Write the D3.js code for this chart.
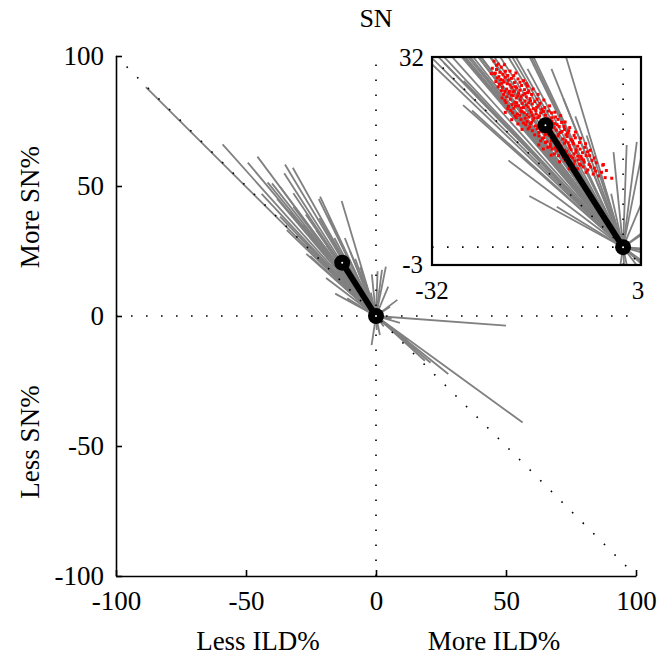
<!DOCTYPE html>
<html>
<head>
<meta charset="utf-8">
<script src="https://cdn.jsdelivr.net/npm/d3@7.9.0/dist/d3.min.js"></script>
<style>
  body { margin: 0; background: #fff; }
  svg { display: block; }
  text { font-family: "Liberation Serif", "Times New Roman", serif; fill: #000; }
</style>
</head>
<body>
<svg id="chart" width="658" height="659"></svg>
<script>
// per-subject change vectors (ILD% change, SN% change)
const subjILD = [-88.5, -59, -49.3, -45.6, -41.7, -40, -35, -35.3, -31.8, -32, -21.5, -22, -13.2, -18.3, -21.8,
  -36.9, -31.8, -36.9, -34.3, -26.7, -26.8, -25.3, -19.2, -15.7, -11.1, -6.1, -1.6, 0.6, 2.3, 3.8, 4.7,
  5.4, 8.2, 9.2, 50, 56.4, 27.8, 18.8, 21, 12, -1.7, 1.5, 0.3, -28, -24, -30, -22, -20, -17, -14, -11,
  -9, -23, -27, -16, -10, -8, -4, -2, -12, 6, 3, -30, -25, -19, -33, -44, -38];
const subjSN = [88, 66, 59, 61.3, 51.4, 51, 58.3, 54.9, 47.2, 57, 45.9, 45, 44.2, 38.2, 37.6,
  49.7, 42, 38.2, 33, 28, 23.9, 23, 14.6, 8.6, 6.8, 18.8, 16, 17.2, 17.7, 19, 11.3,
  3.6, 6.2, -2.6, -3.7, -41, -22.3, -17.2, -18, -9.5, -11.2, -7.3, -5.4, 35, 30, 31, 27, 24, 22, 18, 14,
  12, 33, 39, 30, 25, 22, 13, 9, 30, -1, -4, 36, 33, 27, 40, 47, 45];

// group mean vector
const meanILD = -13;
const meanSN = 20.5;

// bootstrap means (inset)
const bootPts = [
  [-21.6,31.3],[-20.9,30.8],[-21.9,30.1],[-21.2,29.9],[-20.4,30.3],[-19.7,29.6],[-21.5,29.2],
  [-20.8,28.7],[-20.1,29.1],[-19.3,28.9],[-18.7,28.4],[-20.5,28.2],
  [-19.9,27.8],[-19.2,28.1],[-18.2,27.7],[-17.6,28.3],[-20.7,27.4],[-18.9,27.3],
  [-20.2,26.9],[-19.5,26.6],[-18.6,26.9],[-17.8,26.8],[-17.0,27.2],[-16.5,26.5],[-18.2,26.3],[-19.8,26.2],
  [-20.0,25.7],[-19.1,25.9],[-18.4,25.5],[-17.5,25.9],[-16.8,25.6],[-16.0,26.0],[-15.3,25.7],[-17.9,25.1],[-19.5,25.3],
  [-19.8,24.7],[-18.9,24.9],[-18.1,24.4],[-17.2,24.8],[-16.4,24.6],[-15.6,25.0],[-14.8,24.5],[-16.9,24.2],[-15.2,24.1],[-18.6,24.0],
  [-19.2,23.7],[-18.3,23.4],[-17.5,23.8],[-16.7,23.5],[-15.9,23.6],[-15.0,23.3],[-14.2,23.8],[-13.6,23.2],[-17.1,22.9],[-18.8,23.0],
  [-18.5,22.6],[-17.7,22.4],[-16.9,22.8],[-16.1,22.3],[-15.4,22.7],[-14.6,22.4],[-13.8,22.6],[-13.0,22.2],[-12.5,22.9],[-15.8,21.9],
  [-17.9,21.8],[-17.1,21.5],[-16.4,21.7],[-15.1,21.4],[-14.3,21.8],[-13.5,21.3],[-12.7,21.6],[-11.9,21.2],[-11.3,21.9],[-16.7,20.9],
  [-16.3,20.6],[-15.5,20.8],[-14.7,20.4],[-13.9,20.7],[-12.2,20.5],[-11.5,20.8],[-10.7,20.3],[-10.3,21.0],[-15.9,19.9],
  [-15.2,19.6],[-14.4,19.9],[-13.6,19.5],[-12.9,19.8],[-12.0,19.4],[-11.2,19.7],[-10.5,19.3],[-9.8,19.8],[-9.3,19.2],[-14.8,18.9],
  [-14.1,18.7],[-13.3,18.4],[-12.4,18.8],[-11.7,18.3],[-10.9,18.7],[-10.1,18.2],[-9.4,18.6],[-8.7,18.1],[-8.2,18.8],[-13.8,17.9],
  [-13.0,17.6],[-12.2,17.3],[-11.4,17.7],[-10.6,17.2],[-9.8,17.5],[-9.0,17.1],[-8.3,17.4],[-7.6,17.0],[-12.6,16.8],
  [-11.9,16.5],[-11.1,16.2],[-10.3,16.6],[-9.5,16.1],[-8.7,16.4],[-7.9,16.0],[-7.2,16.5],[-6.8,15.9],[-11.5,15.7],
  [-10.8,15.4],[-10.0,15.1],[-9.2,15.5],[-8.4,15.0],[-7.6,15.3],[-6.9,14.9],[-6.2,15.4],[-9.7,14.6],
  [-9.0,14.2],[-8.1,14.5],[-7.3,14.0],[-6.5,14.3],[-5.7,13.9],[-5.2,14.6],[-8.5,13.6],
  [-7.6,13.2],[-6.7,13.5],[-5.9,13.0],[-4.8,13.3],[-3.4,13.8],[-6.2,12.6],
  [-5.0,12.3],[-4.1,12.0],[-3.0,11.7],[-1.9,11.6],[-4.6,12.8],
  [-19.4,27.5],[-18.0,27.0],[-17.3,26.4],[-18.7,25.6],[-17.1,25.3],[-16.2,25.3],[-15.5,24.6],[-17.8,24.3],
  [-16.2,23.9],[-14.6,23.0],[-15.6,23.1],[-17.3,22.2],[-14.0,22.1],[-12.3,21.4],[-15.3,21.0],[-13.1,20.4],
  [-11.6,20.1],[-14.1,19.3],[-12.5,19.1],[-10.8,19.0],[-11.2,18.0],[-9.6,17.9],[-12.0,17.9],[-10.4,17.0],
  [-8.9,16.7],[-9.8,16.3],[-8.2,15.7],[-7.5,14.7],[-9.4,14.9],[-19.7,28.6],[-20.3,27.6],[-16.0,27.1],
  [-15.8,26.3],[-14.4,24.9],[-13.9,24.2],[-13.1,23.5],[-12.0,22.6],[-10.9,21.5],[-9.9,20.3],[-9.1,19.6],
  [-8.0,18.4],[-7.3,17.6],[-6.4,16.8],[-5.6,15.4],[-4.5,14.2],[-3.6,12.6],[-5.5,16.3],[-3.3,13.9],[-2.8,12.9],
  [-21.4,29.3],[-20.1,28.1],[-21.2,30.6],
  [-20.63,29.42],[-19.87,30.71],[-18.94,29.63],[-20.91,26.98],[-19.04,26.23],[-18.31,28.88],[-17.27,27.74],[-16.68,28.02],
  [-19.61,24.33],[-18.47,26.12],[-17.62,25.47],[-16.41,25.86],[-15.83,24.27],[-17.05,23.41],[-18.02,23.77],[-16.53,22.61],
  [-15.21,22.18],[-14.48,23.52],[-13.34,22.84],[-14.92,21.73],[-13.71,21.06],[-12.83,20.92],[-11.94,21.77],[-14.27,20.17],
  [-12.41,20.02],[-11.06,20.61],[-13.02,18.96],[-11.53,18.72],[-10.21,19.48],[-9.57,18.93],[-12.18,16.94],[-10.76,17.63],
  [-9.18,17.57],[-8.46,17.82],[-11.34,16.71],[-9.92,15.63],[-8.72,15.28],[-7.87,16.36],[-7.04,15.27],[-6.61,14.68],
  [-8.31,13.97],[-7.12,13.81],[-5.43,13.52],[-20.27,25.11],[-19.29,23.31],[-18.12,22.08],[-16.08,21.14],[-15.64,20.23],
  [-13.51,18.27],[-12.78,17.74],[-21.08,28.47],[-20.38,26.34],[-17.96,29.31],[-16.22,27.52],[-15.07,26.62],[-14.23,25.71],
  [-13.28,24.77],[-12.31,23.78],[-11.44,22.71],[-10.46,22.14],[-9.71,21.06],[-8.94,20.12],[-7.98,19.37],[-7.11,18.33],
  [-6.28,17.41],[-5.96,16.02],[-4.83,15.02],[-14.12,17.21],[-13.37,16.53],[-12.04,15.48],[-10.63,14.37],[-9.03,13.18],
  [-16.93,19.82],[-17.62,20.74],[-18.66,21.46],[-19.72,22.68],[-21.31,27.86],[-22.06,29.21]
];

const mainTicks = [-100, -50, 0, 50, 100];

const svg = d3.select("#chart");

// main axes scales
const x = d3.scaleLinear().domain([-100, 100]).range([116, 636]);
const y = d3.scaleLinear().domain([-100, 100]).range([576, 56]);

// inset scales
const ix = d3.scaleLinear().domain([-32, 3]).range([432, 641]);
const iy = d3.scaleLinear().domain([-3, 32]).range([265, 57]);

const vectors = subjILD.map((v, i) => ({ ild: v, sn: subjSN[i] }));

const dotted = { stroke: "#000", width: 1.6, dash: "1.6 13.4" };

function drawPanel(g, sx, sy) {
  // subject vectors
  g.selectAll("line.subj")
    .data(vectors)
    .join("line")
    .attr("class", "subj")
    .attr("x1", sx(0)).attr("y1", sy(0))
    .attr("x2", (d) => sx(d.ild)).attr("y2", (d) => sy(d.sn))
    .attr("stroke", "#808080")
    .attr("stroke-width", 1.8);
}

function drawRefLines(g, sx, sy, xd, yd) {
  const lo = Math.max(xd[0], -yd[1]);
  const hi = Math.min(xd[1], -yd[0]);
  const ref = [
    [[xd[0], 0], [xd[1], 0]],
    [[0, yd[0]], [0, yd[1]]],
    [[lo, -lo], [hi, -hi]]
  ];
  g.selectAll("line.ref")
    .data(ref)
    .join("line")
    .attr("class", "ref")
    .attr("x1", (d) => sx(d[0][0])).attr("y1", (d) => sy(d[0][1]))
    .attr("x2", (d) => sx(d[1][0])).attr("y2", (d) => sy(d[1][1]))
    .attr("stroke", dotted.stroke)
    .attr("stroke-width", dotted.width)
    .attr("stroke-dasharray", dotted.dash);
}

function drawMean(g, sx, sy) {
  g.append("line")
    .attr("x1", sx(0)).attr("y1", sy(0))
    .attr("x2", sx(meanILD)).attr("y2", sy(meanSN))
    .attr("stroke", "#000")
    .attr("stroke-width", 6);
  const pts = [[0, 0], [meanILD, meanSN]];
  g.selectAll("circle.m")
    .data(pts)
    .join("circle")
    .attr("class", "m")
    .attr("cx", (d) => sx(d[0])).attr("cy", (d) => sy(d[1]))
    .attr("r", 8)
    .attr("fill", "#000");
  g.selectAll("circle.c")
    .data(pts)
    .join("circle")
    .attr("class", "c")
    .attr("cx", (d) => sx(d[0])).attr("cy", (d) => sy(d[1]))
    .attr("r", 1)
    .attr("fill", "#fff");
}

// ---- main panel ----
const main = svg.append("g");
drawPanel(main, x, y);
drawRefLines(main, x, y, [-100, 100], [-100, 100]);
drawMean(main, x, y);

const xAxis = d3.axisBottom(x).tickValues(mainTicks).tickSizeInner(-6).tickSizeOuter(0).tickPadding(15)
  .tickFormat(d3.format("d"));
const yAxis = d3.axisLeft(y).tickValues(mainTicks).tickSizeInner(-6).tickSizeOuter(0).tickPadding(12)
  .tickFormat(d3.format("d"));

const gx = svg.append("g").attr("transform", `translate(0,${y(-100)})`).call(xAxis);
const gy = svg.append("g").attr("transform", `translate(${x(-100)},0)`).call(yAxis);
[gx, gy].forEach((g) => {
  g.select(".domain").attr("stroke", "#000").attr("stroke-width", 1.6);
  g.selectAll(".tick line").attr("stroke", "#000").attr("stroke-width", 1.6);
  g.selectAll(".tick text")
    .style("font-family", '"Liberation Serif", "Times New Roman", serif')
    .style("font-size", "27px")
    .text((d) => String(d));
});

// titles
svg.append("text").attr("x", 376).attr("y", 27).attr("text-anchor", "middle")
  .style("font-size", "26px").text("SN");
svg.append("text").attr("x", 258).attr("y", 650).attr("text-anchor", "middle")
  .style("font-size", "27px").text("Less ILD%");
svg.append("text").attr("x", 494).attr("y", 650).attr("text-anchor", "middle")
  .style("font-size", "27px").text("More ILD%");
svg.append("text").attr("transform", "translate(39,207) rotate(-90)").attr("text-anchor", "middle")
  .style("font-size", "27px").text("More SN%");
svg.append("text").attr("transform", "translate(39,442) rotate(-90)").attr("text-anchor", "middle")
  .style("font-size", "27px").text("Less SN%");

// ---- inset ----
const ixd = ix.domain(), iyd = iy.domain();
svg.append("clipPath").attr("id", "insetClip")
  .append("rect")
  .attr("x", ix(ixd[0])).attr("y", iy(iyd[1]))
  .attr("width", ix(ixd[1]) - ix(ixd[0])).attr("height", iy(iyd[0]) - iy(iyd[1]));

svg.append("rect")
  .attr("x", ix(ixd[0])).attr("y", iy(iyd[1]))
  .attr("width", ix(ixd[1]) - ix(ixd[0])).attr("height", iy(iyd[0]) - iy(iyd[1]))
  .attr("fill", "#fff");

const inset = svg.append("g").attr("clip-path", "url(#insetClip)");
drawPanel(inset, ix, iy);
inset.selectAll("rect.boot")
  .data(bootPts)
  .join("rect")
  .attr("class", "boot")
  .attr("x", (d) => ix(d[0]) - 1.5).attr("y", (d) => iy(d[1]) - 1.5)
  .attr("width", 3).attr("height", 3)
  .attr("fill", "#ff0000");
drawRefLines(inset, ix, iy, ixd, iyd);
drawMean(inset, ix, iy);

svg.append("rect")
  .attr("x", ix(ixd[0])).attr("y", iy(iyd[1]))
  .attr("width", ix(ixd[1]) - ix(ixd[0])).attr("height", iy(iyd[0]) - iy(iyd[1]))
  .attr("fill", "none").attr("stroke", "#000").attr("stroke-width", 2.2);

// inset limit labels
svg.append("text").attr("x", ix(ixd[0]) - 8).attr("y", iy(iyd[1]) + 9).attr("text-anchor", "end")
  .style("font-size", "25px").text(String(iyd[1]));
svg.append("text").attr("x", ix(ixd[0]) - 9).attr("y", iy(iyd[0]) + 8).attr("text-anchor", "end")
  .style("font-size", "25px").text(String(iyd[0]));
svg.append("text").attr("x", ix(ixd[0])).attr("y", iy(iyd[0]) + 34).attr("text-anchor", "middle")
  .style("font-size", "25px").text(String(ixd[0]));
svg.append("text").attr("x", ix(ixd[1]) - 3).attr("y", iy(iyd[0]) + 34).attr("text-anchor", "middle")
  .style("font-size", "25px").text(String(ixd[1]));
</script>
</body>
</html>
